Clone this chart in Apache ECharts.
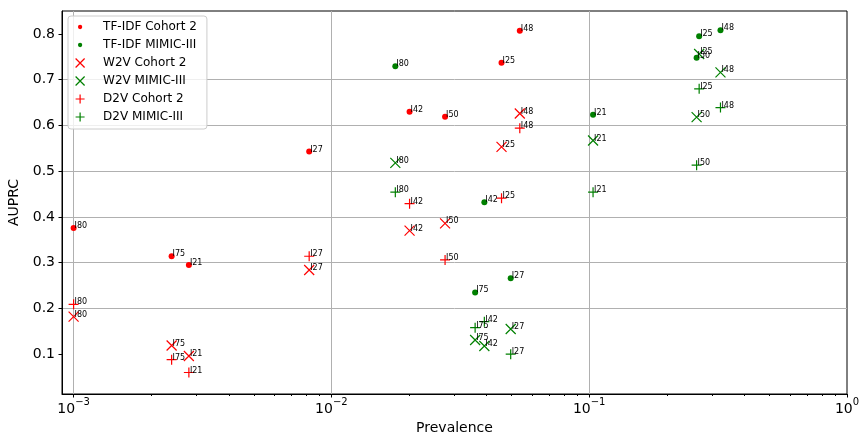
<!DOCTYPE html>
<html><head><meta charset="utf-8">
<script src="https://cdn.jsdelivr.net/npm/echarts@6/dist/echarts.min.js"></script>
<style>html,body{margin:0;padding:0;background:#fff}#c{width:861px;height:434px}</style>
</head><body><div id="c"></div>
<script>
// ICD codes (order shared by all arrays)
const codes = ['I21','I25','I27','I42','I48','I50','I75','I80'];
// prevalence per code
const prevCohort2 = [0.0028, 0.0457, 0.0082, 0.0201, 0.0538, 0.0276, 0.0024, 0.0010];
const prevMimic   = [0.1035, 0.267, 0.0496, 0.0392, 0.323, 0.261, 0.0361, 0.0177];
// AUPRC per method / dataset
const tfidfCohort2 = [0.295, 0.737, 0.543, 0.630, 0.807, 0.619, 0.314, 0.376];
const tfidfMimic   = [0.623, 0.795, 0.266, 0.432, 0.808, 0.748, 0.235, 0.729];
const w2vCohort2   = [0.096, 0.553, 0.284, 0.370, 0.626, 0.386, 0.119, 0.182];
const w2vMimic     = [0.567, 0.756, 0.155, 0.118, 0.716, 0.618, 0.131, 0.518];
const d2vCohort2   = [0.060, 0.441, 0.314, 0.429, 0.594, 0.306, 0.088, 0.209];
const d2vMimic     = [0.454, 0.680, 0.100, 0.171, 0.639, 0.513, 0.158, 0.454];
const yTicks = [0.1, 0.2, 0.3, 0.4, 0.5, 0.6, 0.7, 0.8];
const seriesNames = ['TF-IDF Cohort 2','TF-IDF MIMIC-III','W2V Cohort 2','W2V MIMIC-III','D2V Cohort 2','D2V MIMIC-III'];

const RED = '#ff0000', GREEN = '#008000';
const FONT = 'DejaVu Sans';
const X_PATH = 'path://M0,0L10,10M10,0L0,10';
const P_PATH = 'path://M5,0L5,10M0,5L10,5';
const DOT_LEGEND = 'path://M0,0M10,10M5,2.6A2.4,2.4,0,1,1,4.99,2.6Z';

function pts(prev, vals) {
  return codes.map((c, i) => [prev[i], vals[i], c]);
}
const label = {
  show: true, position: 'inside', align: 'left', verticalAlign: 'bottom',
  offset: [1, 2], fontSize: 8, fontFamily: FONT, color: '#000',
  formatter: p => p.value[2]
};
function dotSeries(name, prev, vals, color) {
  return { name, type: 'scatter', data: pts(prev, vals), symbol: 'circle', symbolSize: 6,
    itemStyle: { color, opacity: 1 }, label };
}
function lineSeries(name, prev, vals, color, path) {
  return { name, type: 'scatter', data: pts(prev, vals), symbol: path, symbolSize: 10,
    itemStyle: { color: 'rgba(0,0,0,0)', borderColor: color, borderWidth: 1.2, opacity: 1 }, label };
}
const minorVals = [];
for (let e = -3; e < 0; e++) for (let k = 2; k <= 9; k++) minorVals.push(k * Math.pow(10, e));

const chart = echarts.init(document.getElementById('c'), null, { renderer: 'canvas' });
chart.setOption({
  animation: false,
  textStyle: { fontFamily: FONT },
  grid: { left: 62, right: 14, top: 11, bottom: 40, outerBoundsMode: 'none', containLabel: false,
    show: true, borderColor: '#000', borderWidth: 1, backgroundColor: '#fff' },
  legend: {
    orient: 'vertical', left: 68, top: 16, itemWidth: 20, itemHeight: 9, itemGap: 6,
    padding: [5, 10, 6, 7], backgroundColor: 'rgba(255,255,255,0.8)', borderColor: '#cccccc', borderWidth: 1, borderRadius: 3,
    textStyle: { fontSize: 12, fontFamily: FONT, color: '#000', padding: [0, 0, 0, 8] },
    itemStyle: { borderWidth: 1.2, opacity: 1 },
    data: [
      { name: seriesNames[0], icon: DOT_LEGEND, itemStyle: { borderWidth: 0 } },
      { name: seriesNames[1], icon: DOT_LEGEND, itemStyle: { borderWidth: 0 } },
      { name: seriesNames[2] }, { name: seriesNames[3] }, { name: seriesNames[4] }, { name: seriesNames[5] }
    ]
  },
  xAxis: [{
    type: 'log', logBase: 10, min: Math.pow(10, -3.045), max: 1,
    name: 'Prevalence', nameLocation: 'middle', nameGap: 22,
    nameTextStyle: { fontSize: 14, fontFamily: FONT, color: '#000', verticalAlign: 'top' },
    axisLine: { show: true, lineStyle: { color: '#000', width: 1 } },
    axisTick: { show: true, length: 3.5, lineStyle: { color: '#000' } },
    axisLabel: {
      showMinLabel: false, margin: 3, color: '#000',
      formatter: v => {
        const e = Math.round(Math.log10(v));
        return '{b|10}{s|' + (e < 0 ? '\u2212' + (-e) : e) + '}';
      },
      rich: {
        b: { fontSize: 14, fontFamily: FONT, color: '#000', lineHeight: 19, verticalAlign: 'bottom' },
        s: { fontSize: 10, fontFamily: FONT, color: '#000', lineHeight: 12, verticalAlign: 'top' }
      }
    },
    splitLine: { show: true, showMinLine: false, showMaxLine: false, lineStyle: { color: '#b0b0b0', width: 1 } }
  }, {
    type: 'log', logBase: 10, min: Math.pow(10, -3.045), max: 1, position: 'bottom', offset: 0,
    axisLine: { show: false },
    axisTick: { show: true, length: 2, lineStyle: { color: '#000' }, customValues: minorVals },
    axisLabel: { show: false }, splitLine: { show: false }
  }],
  yAxis: {
    type: 'value', min: 0.013, max: 0.85,
    name: 'AUPRC', nameLocation: 'middle', nameGap: 33,
    nameTextStyle: { fontSize: 14, fontFamily: FONT, color: '#000' },
    axisLine: { show: true, lineStyle: { color: '#000', width: 1 } },
    axisTick: { show: true, length: 3.5, lineStyle: { color: '#000' }, customValues: yTicks },
    axisLabel: { fontSize: 14, fontFamily: FONT, color: '#000', margin: 7, customValues: yTicks, formatter: v => v.toFixed(1) },
    splitLine: { show: true, showMinLine: false, showMaxLine: false, lineStyle: { color: '#b0b0b0', width: 1 } }
  },
  series: [
    dotSeries(seriesNames[0], prevCohort2, tfidfCohort2, RED),
    dotSeries(seriesNames[1], prevMimic, tfidfMimic, GREEN),
    lineSeries(seriesNames[2], prevCohort2, w2vCohort2, RED, X_PATH),
    lineSeries(seriesNames[3], prevMimic, w2vMimic, GREEN, X_PATH),
    lineSeries(seriesNames[4], prevCohort2, d2vCohort2, RED, P_PATH),
    lineSeries(seriesNames[5], prevMimic, d2vMimic, GREEN, P_PATH)
  ]
});
</script></body></html>
